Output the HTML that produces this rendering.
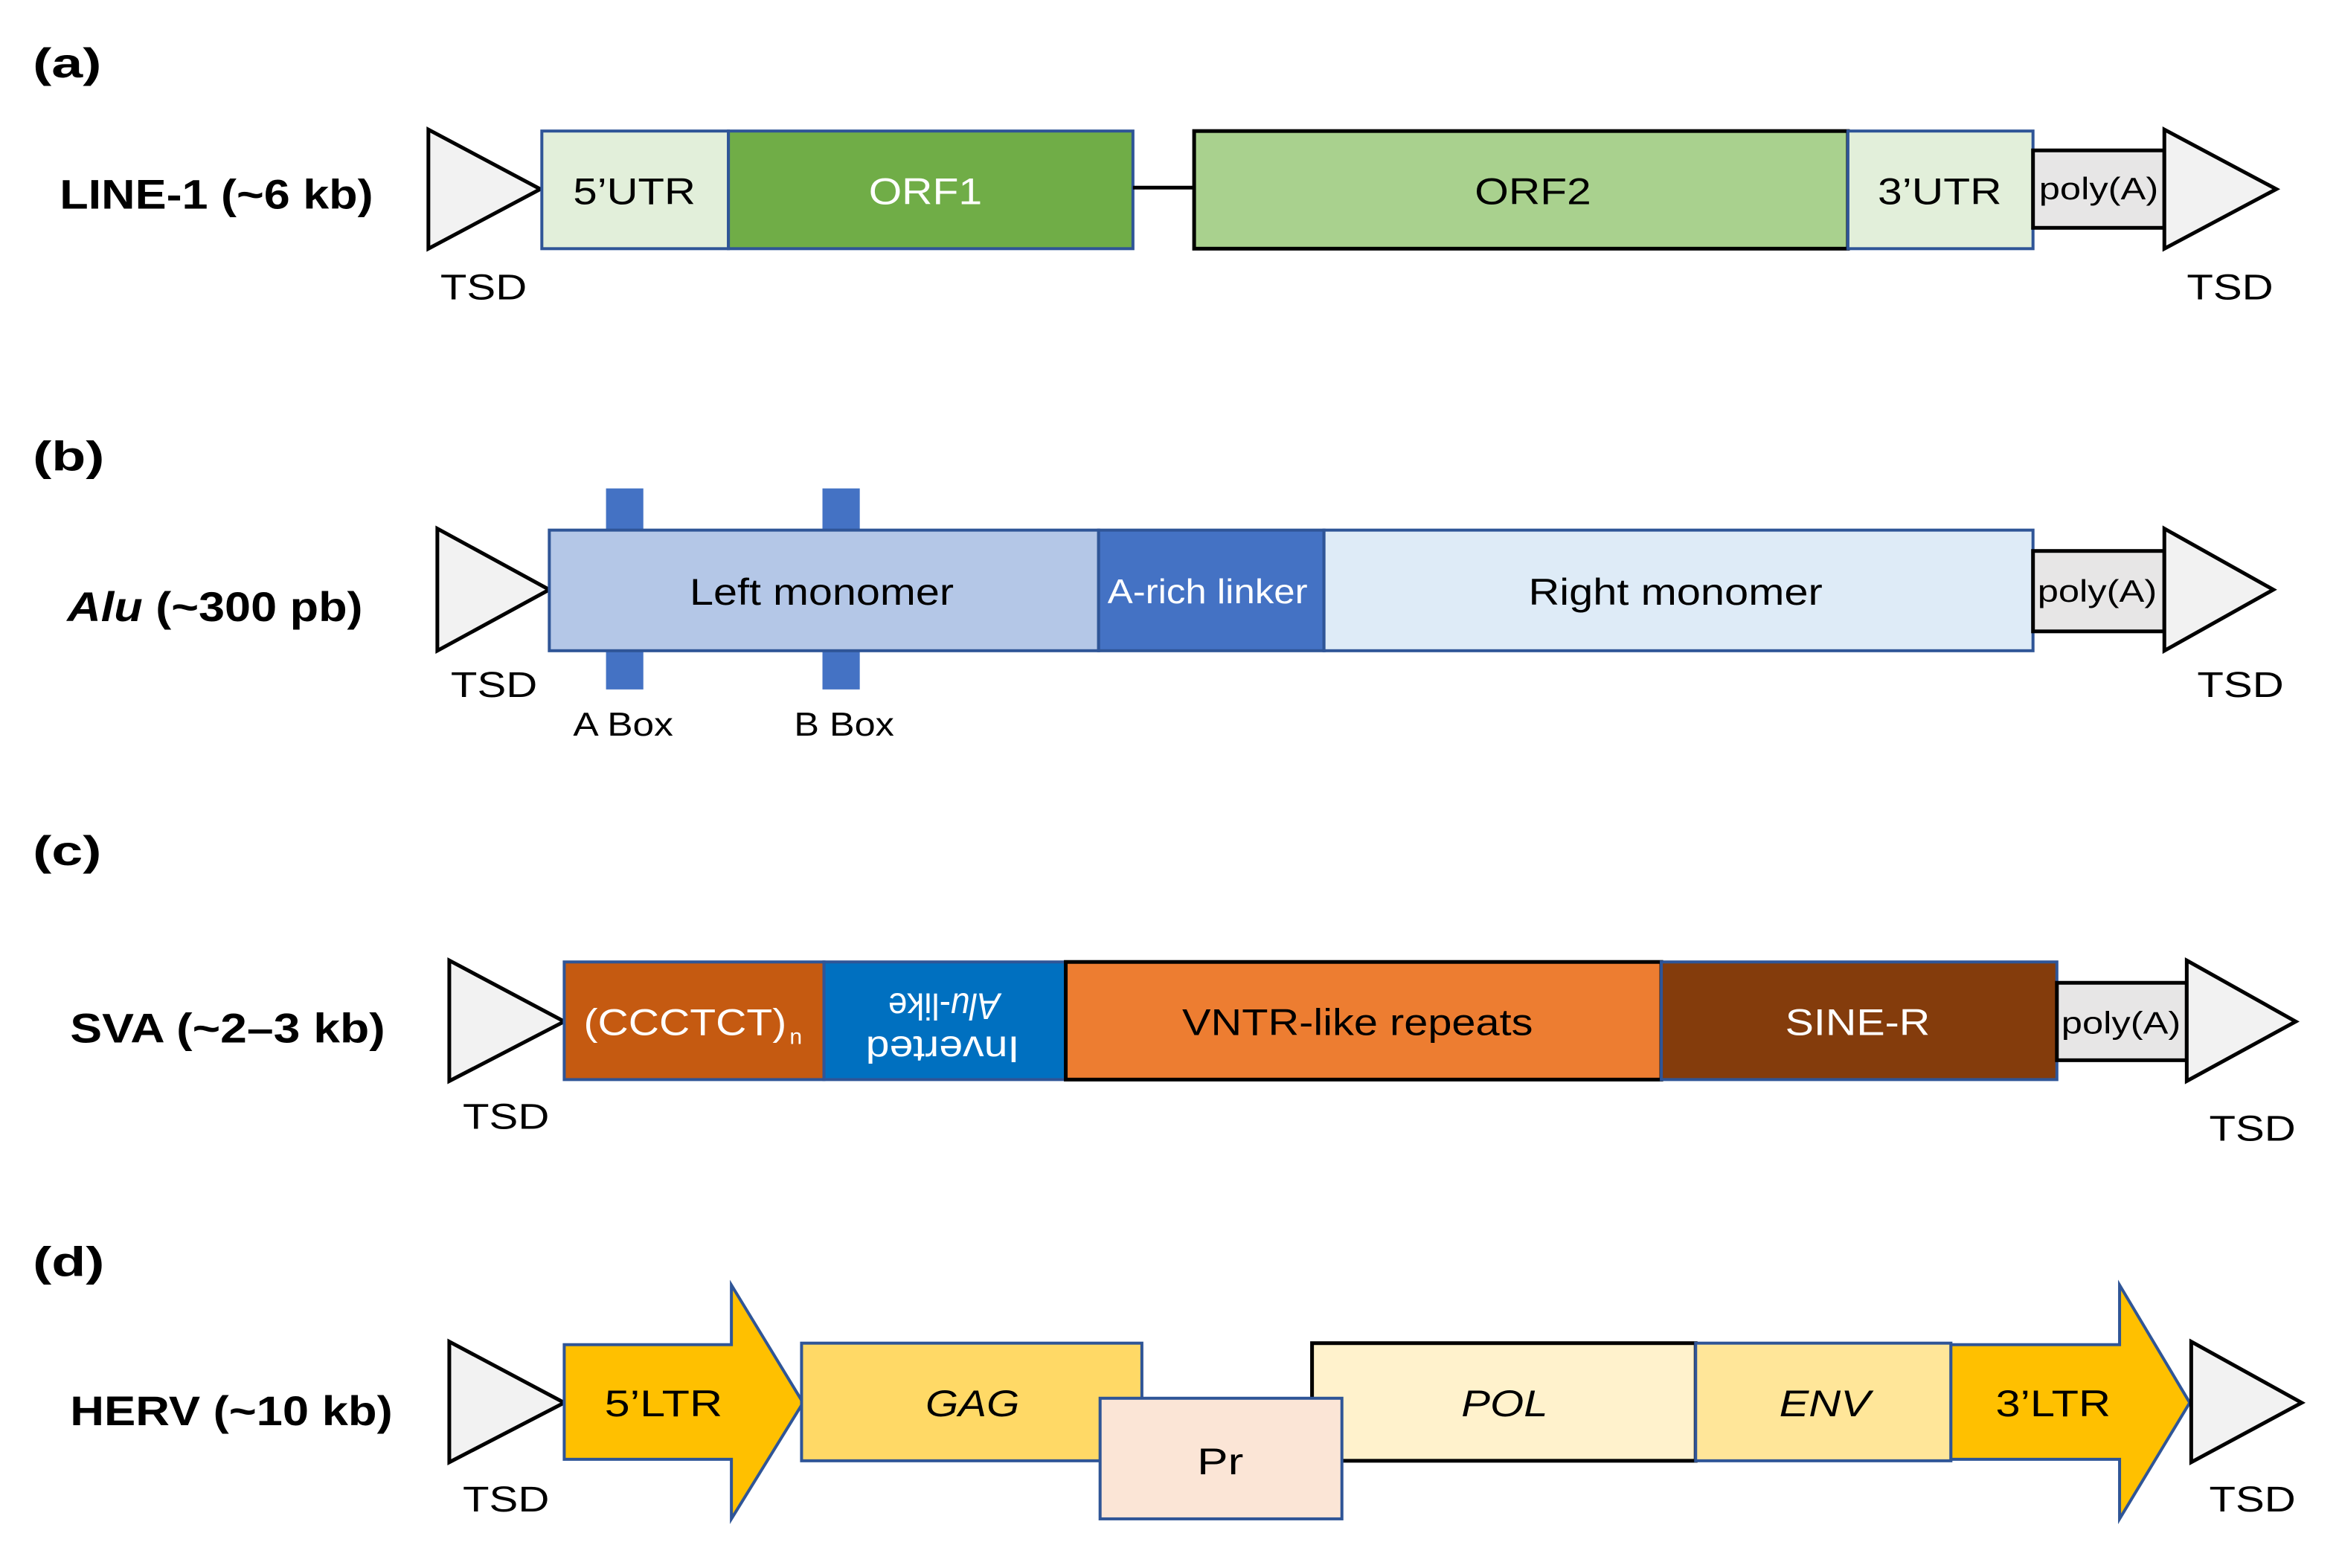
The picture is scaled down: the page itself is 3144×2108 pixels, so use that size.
<!DOCTYPE html>
<html><head><meta charset="utf-8"><style>
html,body{margin:0;padding:0;background:#fff;}
svg{display:block;}
text{font-family:"Liberation Sans",Arial,sans-serif;}
</style></head><body>
<svg width="3144" height="2108" viewBox="0 0 1567 1053" preserveAspectRatio="none" xmlns="http://www.w3.org/2000/svg">
<rect width="1600" height="1100" fill="#fff"/>
<g font-size="28" font-weight="bold" fill="#000">
<text x="22" y="52" textLength="46" lengthAdjust="spacingAndGlyphs">(a)</text>
<text x="22" y="316" textLength="48" lengthAdjust="spacingAndGlyphs">(b)</text>
<text x="22" y="581" textLength="46" lengthAdjust="spacingAndGlyphs">(c)</text>
<text x="22" y="857" textLength="48" lengthAdjust="spacingAndGlyphs">(d)</text>
<text x="40" y="140" textLength="210" lengthAdjust="spacingAndGlyphs">LINE-1 (~6 kb)</text>
<text x="45" y="417" textLength="198" lengthAdjust="spacingAndGlyphs"><tspan font-style="italic">Alu</tspan> (~300 pb)</text>
<text x="47" y="700" textLength="211" lengthAdjust="spacingAndGlyphs">SVA (~2–3 kb)</text>
<text x="47" y="957" textLength="216" lengthAdjust="spacingAndGlyphs">HERV (~10 kb)</text>
</g>

<!-- Row a -->
<polygon points="287,87 362,127 287,167" fill="#f2f2f2" stroke="#000" stroke-width="2.5"/>
<rect x="363" y="88" width="125" height="79" fill="#e2efda" stroke="#2f5597" stroke-width="2"/>
<rect x="488" y="88" width="271" height="79" fill="#70ad47" stroke="#2f5597" stroke-width="2"/>
<line x1="759" y1="126" x2="800" y2="126" stroke="#000" stroke-width="2.5"/>
<rect x="800" y="88" width="438" height="79" fill="#a9d18e" stroke="#000" stroke-width="2.5"/>
<rect x="1238" y="88" width="124" height="79" fill="#e2efda" stroke="#2f5597" stroke-width="2"/>
<rect x="1362" y="101" width="88" height="52" fill="#e7e6e6" stroke="#000" stroke-width="2.5"/>
<polygon points="1450,87 1525,127 1450,167" fill="#f2f2f2" stroke="#000" stroke-width="2.5"/>
<g font-size="25" fill="#000">
<text x="384" y="137" textLength="82" lengthAdjust="spacingAndGlyphs">5’UTR</text>
<text x="582" y="137" textLength="76" lengthAdjust="spacingAndGlyphs" fill="#fff">ORF1</text>
<text x="988" y="137" textLength="78" lengthAdjust="spacingAndGlyphs">ORF2</text>
<text x="1258" y="137" textLength="83" lengthAdjust="spacingAndGlyphs">3’UTR</text>
<text x="1366" y="134" font-size="21" textLength="80" lengthAdjust="spacingAndGlyphs">poly(A)</text>
<text x="295" y="201" font-size="24" textLength="58" lengthAdjust="spacingAndGlyphs">TSD</text>
<text x="1465" y="201" font-size="24" textLength="58" lengthAdjust="spacingAndGlyphs">TSD</text>
</g>

<!-- Row b -->
<rect x="406" y="328" width="25" height="135" fill="#4472c4"/>
<rect x="551" y="328" width="25" height="135" fill="#4472c4"/>
<polygon points="293,355 368,396 293,437" fill="#f2f2f2" stroke="#000" stroke-width="2.5"/>
<rect x="368" y="356" width="368" height="81" fill="#b4c7e7" stroke="#2f5597" stroke-width="2"/>
<rect x="736" y="356" width="151" height="81" fill="#4472c4" stroke="#2f5597" stroke-width="2"/>
<rect x="887" y="356" width="475" height="81" fill="#deebf7" stroke="#2f5597" stroke-width="2"/>
<rect x="1362" y="370" width="88" height="54" fill="#e7e6e6" stroke="#000" stroke-width="2.5"/>
<polygon points="1450,355 1523,396 1450,437" fill="#f2f2f2" stroke="#000" stroke-width="2.5"/>
<g font-size="25" fill="#000">
<text x="462" y="406" textLength="177" lengthAdjust="spacingAndGlyphs">Left monomer</text>
<text x="742" y="405" font-size="23" textLength="134" lengthAdjust="spacingAndGlyphs" fill="#fff">A-rich linker</text>
<text x="1024" y="406" textLength="197" lengthAdjust="spacingAndGlyphs">Right monomer</text>
<text x="1365" y="404" font-size="21" textLength="80" lengthAdjust="spacingAndGlyphs">poly(A)</text>
<text x="302" y="468" font-size="24" textLength="58" lengthAdjust="spacingAndGlyphs">TSD</text>
<text x="1472" y="468" font-size="24" textLength="58" lengthAdjust="spacingAndGlyphs">TSD</text>
<text x="384" y="494" font-size="22" textLength="67" lengthAdjust="spacingAndGlyphs">A Box</text>
<text x="532" y="494" font-size="22" textLength="67" lengthAdjust="spacingAndGlyphs">B Box</text>
</g>

<!-- Row c -->
<polygon points="301,645 378,686 301,726" fill="#f2f2f2" stroke="#000" stroke-width="2.5"/>
<rect x="378" y="646" width="174" height="79" fill="#c55a11" stroke="#2f5597" stroke-width="2"/>
<rect x="552" y="646" width="162" height="79" fill="#0070c0" stroke="#2f5597" stroke-width="2"/>
<rect x="714" y="646" width="399" height="79" fill="#ed7d31" stroke="#000" stroke-width="2.5"/>
<rect x="1113" y="646" width="265" height="79" fill="#843c0c" stroke="#2f5597" stroke-width="2"/>
<rect x="1378" y="660" width="87" height="52" fill="#e7e6e6" stroke="#000" stroke-width="2.5"/>
<polygon points="1465,645 1538,686 1465,726" fill="#f2f2f2" stroke="#000" stroke-width="2.5"/>
<g font-size="25" fill="#000">
<text x="391" y="695" fill="#fff" textLength="136" lengthAdjust="spacingAndGlyphs">(CCCTCT)</text>
<text x="529" y="701" fill="#fff" font-size="15">n</text>
<g transform="rotate(180 633 686)" fill="#fff">
<text x="583" y="676" textLength="103" lengthAdjust="spacingAndGlyphs">Inverted</text>
<text x="596" y="705" textLength="75" lengthAdjust="spacingAndGlyphs"><tspan font-style="italic">Alu</tspan>-like</text>
</g>
<text x="792" y="695" textLength="235" lengthAdjust="spacingAndGlyphs">VNTR-like repeats</text>
<text x="1196" y="695" fill="#fff" textLength="97" lengthAdjust="spacingAndGlyphs">SINE-R</text>
<text x="1381" y="694" font-size="21" textLength="80" lengthAdjust="spacingAndGlyphs">poly(A)</text>
<text x="310" y="758" font-size="24" textLength="58" lengthAdjust="spacingAndGlyphs">TSD</text>
<text x="1480" y="766" font-size="24" textLength="58" lengthAdjust="spacingAndGlyphs">TSD</text>
</g>

<!-- Row d -->
<polygon points="301,901 378,942 301,982" fill="#f2f2f2" stroke="#000" stroke-width="2.5"/>
<polygon points="378,903 490,903 490,863 538,942 490,1020 490,980 378,980" fill="#ffc000" stroke="#2f5597" stroke-width="2"/>
<rect x="537" y="902" width="228" height="79" fill="#ffd966" stroke="#2f5597" stroke-width="2"/>
<rect x="879" y="902" width="257" height="79" fill="#fff2cc" stroke="#000" stroke-width="2.5"/>
<rect x="737" y="939" width="162" height="81" fill="#fbe5d6" stroke="#2f5597" stroke-width="2"/>
<rect x="1136" y="902" width="171" height="79" fill="#ffe699" stroke="#2f5597" stroke-width="2"/>
<polygon points="1307,903 1420,903 1420,863 1467,942 1420,1020 1420,980 1307,980" fill="#ffc000" stroke="#2f5597" stroke-width="2"/>
<polygon points="1468,901 1542,942 1468,982" fill="#f2f2f2" stroke="#000" stroke-width="2.5"/>
<g font-size="25" fill="#000">
<text x="405" y="951" textLength="79" lengthAdjust="spacingAndGlyphs">5’LTR</text>
<text x="620" y="951" font-style="italic" textLength="63" lengthAdjust="spacingAndGlyphs">GAG</text>
<text x="802" y="990" textLength="31" lengthAdjust="spacingAndGlyphs">Pr</text>
<text x="979" y="951" font-style="italic" textLength="58" lengthAdjust="spacingAndGlyphs">POL</text>
<text x="1192" y="951" font-style="italic" textLength="61" lengthAdjust="spacingAndGlyphs">ENV</text>
<text x="1337" y="951" textLength="77" lengthAdjust="spacingAndGlyphs">3’LTR</text>
<text x="310" y="1015" font-size="24" textLength="58" lengthAdjust="spacingAndGlyphs">TSD</text>
<text x="1480" y="1015" font-size="24" textLength="58" lengthAdjust="spacingAndGlyphs">TSD</text>
</g>
</svg>
</body></html>
